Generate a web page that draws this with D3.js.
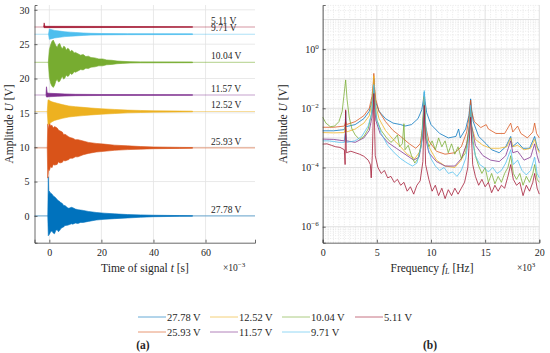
<!DOCTYPE html>
<html>
<head>
<meta charset="utf-8">
<script src="https://cdn.jsdelivr.net/npm/d3@7"></script>
<style>
  body { margin: 0; background: #fff; }
  text { font-family: "Liberation Serif", "DejaVu Serif", serif; fill: #262626; }
</style>
</head>
<body>
<svg id="fig" width="550" height="353"></svg>
<script>
// ---- data ----
var voltLabels = ["27.78 V", "25.93 V", "12.52 V", "11.57 V", "10.04 V", "9.71 V", "5.11 V"];
var colors = ["#0072BD", "#D95319", "#EDB120", "#7E2F8E", "#77AC30", "#4DBEEE", "#A2142F"];
// offset (V) of every signal in panel (a)
var baseline = [0, 9.9, 15.2, 17.6, 22.35, 26.45, 27.5];

// envelopes of the time signals: [t (ms), lower (V), upper (V)]
var env2778 = [[-0.6,0,0],[-0.4,-2.9,5.7],[-0.2,-2.6,3.0],[0,-2.7,3.6],[0.5,-2.3,3.3],[1,-2.2,3.2],[1.5,-2.5,2.9],[2,-2.6,2.8],[2.5,-2.1,2.6],[3,-2.0,2.4],[3.5,-2.3,2.2],[4,-2.1,2.1],[4.5,-1.8,1.9],[5,-1.7,1.8],[5.5,-1.6,1.5],[6,-1.4,1.5],[7,-1.35,1.2],[7.5,-1.3,1.1],[8.5,-1.15,1.25],[9,-1.2,1.2],[10,-1.05,1.0],[11,-1.1,0.9],[12,-0.95,0.85],[13,-0.95,0.8],[15,-0.8,0.65],[18,-0.6,0.5],[21,-0.5,0.4],[25,-0.4,0.3],[30,-0.3,0.2],[35,-0.2,0.15],[40,-0.12,0.1],[50,-0.06,0.05],[55,-0.04,0.04]];
var env2593 = [[-0.8,9.9,9.9],[-0.6,5.5,13.4],[-0.3,6.8,12.6],[0,6.6,13.6],[0.5,7.2,13.1],[1,7.0,13.2],[1.5,7.5,12.8],[2,7.4,13.0],[3,7.5,12.8],[3.5,7.9,12.5],[4,7.7,12.4],[5,7.8,12.2],[5.5,8.1,11.8],[6,8.0,11.9],[7.5,8.2,11.5],[8,8.4,11.4],[9,8.4,11.3],[10,8.6,11.1],[11,8.6,11.1],[13,8.9,10.9],[15,9.1,10.7],[18,9.3,10.55],[21,9.4,10.45],[25,9.55,10.3],[30,9.65,10.2],[35,9.72,10.1],[40,9.78,10.03],[50,9.83,9.97],[55,9.85,9.95]];
var env1252 = [[-0.8,15.2,15.2],[-0.5,13.3,16.9],[0,13.4,16.8],[1,13.7,16.6],[2,13.9,16.5],[3,14.0,16.4],[5,14.2,16.2],[7.5,14.4,16.0],[10,14.5,15.9],[13,14.6,15.8],[16,14.7,15.7],[20,14.8,15.6],[25,14.9,15.5],[30,15.0,15.4],[35,15.05,15.35],[40,15.1,15.3],[50,15.13,15.27],[55,15.15,15.25]];
var env1157 = [[-1.3,17.6,17.6],[-1.1,17.3,18.8],[-0.8,17.3,17.9],[0,17.35,17.85],[3,17.4,17.8],[6,17.45,17.75],[10,17.5,17.7],[20,17.53,17.67],[55,17.55,17.65]];
var env1004 = [[-0.4,22.35,22.35],[0,20.2,24.2],[0.5,19.3,24.9],[1,18.9,25.4],[1.5,18.7,25.6],[2,19.0,25.2],[2.5,19.6,24.8],[3,19.9,24.5],[3.5,19.5,25.0],[4,19.6,25.1],[4.5,20.0,24.6],[5,20.3,24.3],[5.5,19.9,24.7],[6,20.1,24.6],[6.5,20.5,24.1],[7,20.3,24.4],[7.5,20.4,24.3],[8,20.8,23.9],[8.5,20.6,24.1],[9,20.7,24.0],[9.5,21.0,23.7],[10,20.9,23.8],[11,21.1,23.6],[12,21.3,23.4],[13,21.25,23.5],[14,21.5,23.2],[15,21.45,23.25],[16,21.65,23.05],[17.5,21.7,23.0],[19,21.85,22.85],[20.5,21.85,22.85],[22,22.0,22.7],[24,22.05,22.65],[26,22.15,22.55],[28,22.2,22.5],[31,22.25,22.45],[35,22.28,22.42],[55,22.3,22.4]];
var env971 = [[-0.3,26.45,26.45],[0,25.7,27.2],[1,25.8,27.1],[2,25.9,27.0],[4,26.0,26.9],[6,26.1,26.8],[8,26.15,26.75],[10,26.2,26.7],[13,26.27,26.63],[16,26.32,26.58],[20,26.35,26.55],[30,26.38,26.52],[55,26.4,26.5]];
var env511 = [[-2.2,27.5,27.5],[-2.0,27.4,28.1],[-1.7,27.4,27.6],[55,27.45,27.55]];

// spectra: [f (kHz), log10 amplitude (V)]
var spec2778 = [[0,-2.76],[1,-2.76],[2.0,-2.72],[2.08,-2.6],[2.12,-2.1],[2.16,-2.62],[3,-2.55],[3.8,-2.35],[4.3,-2.1],[4.55,-1.75],[4.66,-1.35],[4.72,-1.0],[4.78,-1.4],[4.9,-1.8],[5.2,-2.1],[5.8,-2.35],[6.5,-2.5],[7.2,-2.55],[7.6,-2.6],[8.2,-2.55],[8.8,-2.35],[9.15,-2.05],[9.3,-1.7],[9.38,-1.45],[9.45,-1.75],[9.6,-2.15],[10,-2.55],[10.8,-2.85],[11.6,-3.0],[12.3,-2.95],[12.55,-2.7],[12.7,-3.0],[13.2,-2.7],[13.5,-2.25],[13.62,-1.85],[13.66,-1.68],[13.72,-1.95],[13.9,-2.45],[14.4,-2.95],[15.1,-3.2],[15.6,-3.4],[16.3,-3.5],[16.9,-3.3],[17.36,-2.95],[17.5,-3.3],[18.0,-3.15],[18.5,-3.35],[19.1,-3.35],[19.57,-2.95],[19.8,-3.3],[20,-3.45]];
var spec2593 = [[0,-2.64],[1,-2.64],[2.0,-2.6],[2.12,-2.45],[2.2,-2.55],[3,-2.45],[3.8,-2.25],[4.3,-2.0],[4.55,-1.6],[4.66,-1.2],[4.72,-0.82],[4.78,-1.25],[4.9,-1.7],[5.2,-2.1],[5.8,-2.45],[6.5,-2.75],[7.2,-2.95],[8.0,-3.2],[8.6,-3.35],[9.0,-3.2],[9.25,-2.6],[9.38,-1.65],[9.5,-2.6],[9.8,-3.1],[10.5,-3.45],[11.3,-3.55],[12.2,-3.5],[12.8,-3.3],[13.3,-2.8],[13.55,-2.2],[13.66,-1.72],[13.75,-2.1],[14.0,-2.45],[14.6,-2.65],[15.1,-2.55],[15.3,-2.7],[16.0,-2.85],[16.8,-2.85],[17.2,-2.6],[17.36,-2.5],[17.55,-2.8],[18.0,-2.6],[18.3,-2.85],[18.9,-3.0],[19.4,-2.8],[19.57,-2.5],[19.75,-2.85],[20,-3.0]];
var spec1252 = [[0,-2.82],[1,-2.83],[2.0,-2.82],[2.12,-2.55],[2.2,-2.8],[3,-2.7],[3.8,-2.5],[4.3,-2.25],[4.55,-1.8],[4.66,-1.3],[4.72,-0.9],[4.78,-1.35],[4.9,-1.9],[5.2,-2.35],[5.8,-2.75],[6.5,-3.05],[7.2,-3.3],[7.8,-3.55],[8.5,-3.7],[9.0,-3.45],[9.25,-2.8],[9.38,-1.6],[9.5,-2.8],[9.8,-3.3],[10.5,-3.75],[11.3,-3.95],[12.2,-4.0],[12.8,-3.75],[13.3,-3.2],[13.58,-2.5],[13.66,-2.05],[13.75,-2.6],[14.1,-3.05],[14.8,-3.25],[15.5,-3.35],[16.3,-3.35],[17.0,-3.3],[17.36,-3.0],[17.55,-3.3],[18.0,-3.25],[18.6,-3.4],[19.2,-3.35],[19.57,-3.05],[19.8,-3.35],[20,-3.5]];
var spec1157 = [[0,-3.04],[1,-3.05],[2.0,-3.1],[2.12,-2.85],[2.2,-3.1],[3,-3.15],[3.8,-3.0],[4.3,-2.75],[4.55,-2.3],[4.66,-1.8],[4.72,-1.3],[4.78,-1.8],[4.9,-2.4],[5.3,-2.85],[6,-3.15],[6.8,-3.35],[7.6,-3.55],[8.4,-3.75],[8.9,-3.65],[9.2,-3.0],[9.38,-1.8],[9.5,-3.0],[9.8,-3.5],[10.5,-3.8],[11.3,-3.95],[12.2,-3.95],[12.8,-3.7],[13.3,-3.2],[13.58,-2.5],[13.66,-2.0],[13.75,-2.6],[14.1,-3.25],[14.8,-3.6],[15.5,-3.75],[16.3,-3.8],[16.9,-3.6],[17.36,-3.1],[17.55,-3.5],[18.0,-3.45],[18.6,-3.75],[19.2,-3.65],[19.57,-3.2],[19.8,-3.6],[20,-3.85]];
var spec1004 = [[0,-2.3],[0.3,-2.5],[0.7,-2.62],[1.1,-2.6],[1.5,-2.45],[1.8,-2.1],[1.95,-1.6],[2.12,-1.04],[2.25,-1.7],[2.45,-2.3],[2.7,-2.7],[3.0,-2.9],[3.4,-3.05],[3.8,-2.95],[4.2,-2.7],[4.5,-2.2],[4.62,-1.8],[4.72,-1.3],[4.82,-1.9],[5.0,-2.4],[5.4,-2.75],[5.9,-3.0],[6.3,-3.15],[6.6,-3.05],[6.9,-2.9],[7.1,-3.3],[7.35,-3.2],[7.5,-2.52],[7.6,-3.4],[7.9,-3.25],[8.2,-3.6],[8.5,-3.85],[8.8,-3.7],[9.1,-3.2],[9.38,-1.6],[9.55,-3.0],[9.8,-3.3],[10.1,-3.1],[10.4,-3.4],[10.7,-3.0],[11.0,-3.3],[11.3,-3.1],[11.6,-3.5],[11.9,-3.2],[12.2,-3.55],[12.5,-3.3],[12.8,-3.7],[13.2,-3.5],[13.5,-2.8],[13.66,-2.0],[13.8,-2.9],[14.1,-3.6],[14.4,-3.95],[14.7,-4.2],[15.0,-4.0],[15.3,-4.5],[15.6,-4.2],[15.9,-4.55],[16.2,-4.3],[16.5,-4.5],[16.8,-4.2],[17.1,-4.0],[17.36,-3.6],[17.6,-4.2],[17.9,-4.4],[18.2,-4.2],[18.5,-4.6],[18.8,-4.3],[19.1,-4.5],[19.4,-4.2],[19.57,-3.9],[19.8,-4.4],[20,-4.5]];
var spec971 = [[0,-3.1],[0.5,-3.1],[1,-3.12],[1.5,-3.15],[2.0,-3.15],[2.12,-2.7],[2.2,-3.15],[3,-3.1],[3.6,-2.95],[4.2,-2.6],[4.5,-2.2],[4.66,-1.6],[4.72,-1.2],[4.8,-1.7],[5.0,-2.4],[5.4,-2.85],[6,-3.25],[6.6,-3.5],[7.2,-3.7],[7.8,-3.85],[8.3,-3.95],[8.7,-3.85],[9.1,-3.3],[9.3,-2.3],[9.38,-1.4],[9.46,-2.3],[9.7,-3.3],[10.0,-3.7],[10.4,-3.95],[10.8,-4.1],[11.2,-4.0],[11.6,-4.2],[12.0,-4.15],[12.4,-4.3],[12.8,-4.1],[13.2,-3.7],[13.5,-3.0],[13.66,-1.9],[13.8,-3.1],[14.1,-3.6],[14.5,-3.9],[14.9,-4.0],[15.3,-4.15],[15.7,-4.0],[16.1,-4.2],[16.5,-4.1],[16.9,-3.85],[17.36,-3.4],[17.6,-3.9],[18.0,-3.75],[18.4,-4.1],[18.8,-4.25],[19.2,-4.1],[19.57,-3.65],[19.8,-4.2],[20,-4.35]];
var spec511 = [[0,-3.21],[0.4,-3.2],[0.8,-3.25],[1.2,-3.3],[1.6,-3.32],[2.0,-3.4],[2.07,-3.9],[2.12,-2.05],[2.18,-3.5],[2.6,-3.45],[3.0,-3.5],[3.4,-3.55],[3.8,-3.62],[4.2,-3.75],[4.4,-3.9],[4.48,-4.35],[4.58,-3.6],[4.72,-1.5],[4.85,-3.6],[5.1,-4.0],[5.4,-4.2],[5.7,-4.1],[6.0,-4.35],[6.3,-4.3],[6.6,-4.5],[6.9,-4.4],[7.2,-4.6],[7.5,-4.5],[7.8,-4.8],[8.1,-4.65],[8.4,-4.9],[8.7,-4.6],[9.0,-4.45],[9.25,-3.8],[9.38,-1.9],[9.5,-3.9],[9.8,-4.4],[10.1,-4.8],[10.4,-4.6],[10.7,-4.95],[11.0,-4.7],[11.3,-5.05],[11.6,-4.75],[11.9,-4.95],[12.2,-4.7],[12.5,-4.9],[12.8,-4.7],[13.1,-4.5],[13.4,-4.0],[13.66,-2.3],[13.85,-3.9],[14.1,-4.3],[14.4,-4.6],[14.7,-4.4],[15.0,-4.65],[15.3,-4.5],[15.6,-4.85],[15.9,-4.6],[16.2,-4.8],[16.5,-4.6],[16.8,-4.7],[17.1,-4.3],[17.36,-3.9],[17.6,-4.4],[17.9,-4.6],[18.2,-4.5],[18.5,-4.95],[18.8,-4.6],[19.1,-4.8],[19.4,-4.5],[19.57,-4.2],[19.8,-4.7],[20,-4.9]];

var timeTicks = [0, 20, 40, 60];
var voltTicks = [0, 5, 10, 15, 20, 25, 30];
var freqTicks = [0, 5, 10, 15, 20];
var ampTicks = [-6, -4, -2, 0];

var envs = [env2778, env2593, env1252, env1157, env1004, env971, env511];
var specs = [spec2778, spec2593, spec1252, spec1157, spec1004, spec971, spec511];

var svg = d3.select("#fig");
svg.append("rect").attr("width", 550).attr("height", 353).attr("fill", "#fff");

// ****************** panel (a) ******************
var xa = d3.scaleLinear().domain([-5.7, 79]).range([34.5, 255]);
var ya = d3.scaleLinear().domain([-3.9, 30.7]).range([242.7, 5]);

var ga = svg.append("g");

// grid
ga.selectAll("line.vg").data(timeTicks).enter().append("line")
    .attr("x1", d => xa(d)).attr("x2", d => xa(d))
    .attr("y1", ya.range()[0]).attr("y2", ya.range()[1])
    .attr("stroke", "#e3e3e3").attr("stroke-width", 0.8);
ga.selectAll("line.hg").data(voltTicks).enter().append("line")
    .attr("y1", d => ya(d)).attr("y2", d => ya(d))
    .attr("x1", xa.range()[0]).attr("x2", xa.range()[1])
    .attr("stroke", "#e3e3e3").attr("stroke-width", 0.8);

// pale offset lines
ga.selectAll("line.base").data(baseline).enter().append("line")
    .attr("x1", xa.range()[0]).attr("x2", xa.range()[1])
    .attr("y1", d => ya(d)).attr("y2", d => ya(d))
    .attr("stroke", (d, i) => colors[i]).attr("stroke-opacity", 0.45)
    .attr("stroke-width", 1.1);

// signal envelopes
var area = d3.area()
    .x(d => xa(d[0]))
    .y0(d => ya(d[1]))
    .y1(d => ya(d[2]));

ga.selectAll("path.sig").data(envs).enter().append("path")
    .attr("d", area)
    .attr("fill", (d, i) => colors[i])
    .attr("stroke", (d, i) => colors[i])
    .attr("stroke-width", 0.6);

// labels on the signals
ga.selectAll("text.lab").data(baseline).enter().append("text")
    .attr("x", 211)
    .attr("y", d => ya(d) - 3)
    .attr("font-size", 9.5)
    .text((d, i) => voltLabels[i]);

// axes
var axA = ga.append("g").attr("transform", "translate(0," + ya.range()[0] + ")")
    .call(d3.axisBottom(xa).tickValues(timeTicks).tickSize(-3).tickPadding(6));
var ayA = ga.append("g").attr("transform", "translate(" + xa.range()[0] + ",0)")
    .call(d3.axisLeft(ya).tickValues(voltTicks).tickSize(-3).tickPadding(5));
[axA, ayA].forEach(function(a) {
  a.select(".domain").attr("stroke", "#444").attr("stroke-width", 0.8);
  a.selectAll(".tick line").attr("stroke", "#444").attr("stroke-width", 0.8);
  a.selectAll(".tick text").attr("font-size", 10).attr("fill", "#262626")
    .attr("font-family", "Liberation Serif, DejaVu Serif, serif");
});

var tl = ga.append("text").attr("x", 145).attr("y", 272).attr("text-anchor", "middle").attr("font-size", 11.5);
tl.append("tspan").text("Time of signal ");
tl.append("tspan").attr("font-style", "italic").text("t");
tl.append("tspan").text(" [s]");

var mult = ga.append("text").attr("x", 223).attr("y", 271).attr("font-size", 9.5);
mult.append("tspan").text("\u00d710");
mult.append("tspan").attr("dy", -4).attr("font-size", 7).text("\u22123");

var ylA = ga.append("text").attr("transform", "translate(13,124) rotate(-90)")
    .attr("text-anchor", "middle").attr("font-size", 11.5);
ylA.append("tspan").text("Amplitude ");
ylA.append("tspan").attr("font-style", "italic").text("U");
ylA.append("tspan").text(" [V]");

// ****************** panel (b) ******************
var xb = d3.scaleLinear().domain([0, 20]).range([322.7, 539.3]);
var yb = d3.scaleLog().domain([Math.pow(10, -6.54), Math.pow(10, 1.49)]).range([242.7, 5]);

var gb = svg.append("g");

// minor grid
var minorX = d3.range(0.5, 20, 0.5).filter(d => d % 5 !== 0);
gb.selectAll("line.mx").data(minorX).enter().append("line")
    .attr("x1", d => xb(d)).attr("x2", d => xb(d))
    .attr("y1", yb.range()[0]).attr("y2", yb.range()[1])
    .attr("stroke", "#d8d8d8").attr("stroke-width", 0.6).attr("stroke-dasharray", "1,1.5");
var minorY = [];
d3.range(-7, 2).forEach(function(e) {
  for (var k = 2; k <= 9; k++) {
    var v = k * Math.pow(10, e);
    if (v > yb.domain()[0] && v < yb.domain()[1]) minorY.push(v);
  }
});
gb.selectAll("line.my").data(minorY).enter().append("line")
    .attr("y1", d => yb(d)).attr("y2", d => yb(d))
    .attr("x1", xb.range()[0]).attr("x2", xb.range()[1])
    .attr("stroke", "#d8d8d8").attr("stroke-width", 0.6).attr("stroke-dasharray", "1,1.5");
// major grid
gb.selectAll("line.vx").data(freqTicks).enter().append("line")
    .attr("x1", d => xb(d)).attr("x2", d => xb(d))
    .attr("y1", yb.range()[0]).attr("y2", yb.range()[1])
    .attr("stroke", "#dedede").attr("stroke-width", 0.9);
gb.selectAll("line.vy").data(d3.range(-6, 2)).enter().append("line")
    .attr("y1", d => yb(Math.pow(10, d))).attr("y2", d => yb(Math.pow(10, d)))
    .attr("x1", xb.range()[0]).attr("x2", xb.range()[1])
    .attr("stroke", "#dedede").attr("stroke-width", 0.9);

// spectra
var line = d3.line()
    .x(d => xb(d[0]))
    .y(d => yb(Math.pow(10, d[1])));

gb.selectAll("path.spec").data(specs).enter().append("path")
    .attr("d", line)
    .attr("fill", "none")
    .attr("stroke", (d, i) => colors[i])
    .attr("stroke-opacity", 0.85)
    .attr("stroke-width", 0.9);

var axB = gb.append("g").attr("transform", "translate(0," + yb.range()[0] + ")")
    .call(d3.axisBottom(xb).tickValues(freqTicks).tickSize(-3).tickPadding(6));
var ayB = gb.append("g").attr("transform", "translate(" + xb.range()[0] + ",0)")
    .call(d3.axisLeft(yb).tickValues(ampTicks.map(e => Math.pow(10, e))).tickFormat("").tickSize(-3).tickPadding(5));
[axB, ayB].forEach(function(a) {
  a.select(".domain").attr("stroke", "#444").attr("stroke-width", 0.8);
  a.selectAll(".tick line").attr("stroke", "#444").attr("stroke-width", 0.8);
  a.selectAll(".tick text").attr("font-size", 10).attr("fill", "#262626")
    .attr("font-family", "Liberation Serif, DejaVu Serif, serif");
});
// powers of ten on the log axis
ayB.selectAll(".tick").each(function(d) {
  var e = Math.round(Math.log10(d));
  var t = d3.select(this).append("text").attr("x", -4).attr("dy", "0.32em")
      .attr("text-anchor", "end").attr("font-size", 10).attr("fill", "#262626");
  t.append("tspan").text("10");
  t.append("tspan").attr("dy", -4).attr("font-size", 7).text(e < 0 ? "\u2212" + (-e) : e);
});

var fl = gb.append("text").attr("x", 432).attr("y", 272).attr("text-anchor", "middle").attr("font-size", 11.5);
fl.append("tspan").text("Frequency ");
fl.append("tspan").attr("font-style", "italic").text("f");
fl.append("tspan").attr("font-style", "italic").attr("font-size", 8).attr("dy", 2).text("L");
fl.append("tspan").attr("dy", -2).text(" [Hz]");

var mult2 = gb.append("text").attr("x", 517).attr("y", 271).attr("font-size", 9.5);
mult2.append("tspan").text("\u00d710");
mult2.append("tspan").attr("dy", -4).attr("font-size", 7).text("3");

var ylB = gb.append("text").attr("transform", "translate(287,124) rotate(-90)")
    .attr("text-anchor", "middle").attr("font-size", 11.5);
ylB.append("tspan").text("Amplitude ");
ylB.append("tspan").attr("font-style", "italic").text("U");
ylB.append("tspan").text(" [V]");

// ****************** legend ******************
var legX = [138, 210, 282, 355];
var legY = [317, 332];
var leg = svg.append("g").selectAll("g").data(voltLabels).enter().append("g")
    .attr("transform", (d, i) => "translate(" + legX[Math.floor(i / 2)] + "," + legY[i % 2] + ")");
leg.append("line").attr("x1", 0).attr("x2", 28).attr("y1", 0).attr("y2", 0)
    .attr("stroke", (d, i) => colors[i]).attr("stroke-opacity", 0.6).attr("stroke-width", 1);
leg.append("text").attr("x", 29).attr("dy", "0.35em").attr("font-size", 10.5).text(d => d);

svg.append("text").attr("x", 143).attr("y", 349).attr("text-anchor", "middle")
    .attr("font-size", 11.5).attr("font-weight", "bold").text("(a)");
svg.append("text").attr("x", 430).attr("y", 349).attr("text-anchor", "middle")
    .attr("font-size", 11.5).attr("font-weight", "bold").text("(b)");
</script>
</body>
</html>
